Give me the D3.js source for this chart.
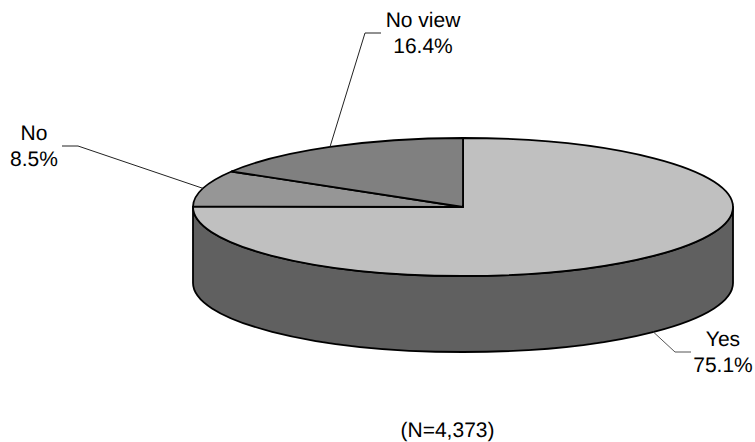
<!DOCTYPE html>
<html>
<head>
<meta charset="utf-8">
<style>
  html, body { margin: 0; padding: 0; background: #fff; }
  svg { display: block; }
  text { font-family: "Liberation Sans", Arial, sans-serif; font-size: 21px; fill: #000; text-rendering: geometricPrecision; }
</style>
<script src="https://cdnjs.cloudflare.com/ajax/libs/d3/7.8.5/d3.min.js"></script>
</head>
<body>
<svg id="chart" width="755" height="442"></svg>
<script>
const categories = ["Yes", "No", "No view"];
const shares = [75.1, 8.5, 16.4];
const sliceColors = ["#c0c0c0", "#969696", "#808080"];
const sampleNote = "(N=4,373)";

const width = 755, height = 442;
const cx = 463, cy = 207, rx = 270, ry = 69, depth = 76;
const wallColor = "#606060";

// Leader elbow and label placement for each slice
const leaders = [
  { elbow: [675, 352], end: [691, 352], label: [723, 346], rim: true, stroke: "#555" },
  { elbow: [78, 146], end: [62, 146], label: [34, 140], rim: false, stroke: "#222" },
  { elbow: [365, 33], end: [381, 33], label: [423, 27], rim: false, stroke: "#222" }
];

const svg = d3.select("#chart");
const rows = categories.map((name, i) => ({ name, value: shares[i], color: sliceColors[i], leader: leaders[i] }));
const pie = d3.pie().sort(null).value(d => d.value);
const arcs = pie(rows);

const rimPoint = a => [cx + rx * Math.sin(a), cy - ry * Math.cos(a)];

// Cylinder wall: the lower half of the top ellipse swept down by the depth
const wall = `M${cx - rx},${cy}V${cy + depth}A${rx},${ry} 0 0 0 ${cx + rx},${cy + depth}V${cy}A${rx},${ry} 0 0 1 ${cx - rx},${cy}Z`;
svg.append("path")
  .attr("d", wall)
  .attr("fill", wallColor)
  .attr("stroke", "#000")
  .attr("stroke-width", 1.8)
  .attr("stroke-linejoin", "round");

// Top face: circular arcs squashed into an ellipse, strokes kept even
const arcGen = d3.arc().innerRadius(0).outerRadius(rx);
svg.append("g")
  .attr("transform", `translate(${cx},${cy}) scale(1,${ry / rx})`)
  .selectAll("path")
  .data(arcs)
  .join("path")
  .attr("d", arcGen)
  .attr("fill", d => d.data.color)
  .attr("stroke", "#000")
  .attr("stroke-width", 1.8)
  .attr("stroke-linejoin", "round")
  .attr("vector-effect", "non-scaling-stroke");

// Leader lines start at the middle of each slice's rim
const line = d3.line();
svg.append("g")
  .selectAll("path")
  .data(arcs)
  .join("path")
  .attr("d", d => {
    const p = rimPoint((d.startAngle + d.endAngle) / 2);
    if (d.data.leader.rim) p[1] += depth;
    return line([p, d.data.leader.elbow, d.data.leader.end]);
  })
  .attr("fill", "none")
  .attr("stroke", d => d.data.leader.stroke)
  .attr("stroke-width", 1);

// Two-line labels: name above, share below
const labels = svg.append("g")
  .selectAll("text")
  .data(arcs)
  .join("text")
  .attr("text-anchor", "middle")
  .attr("x", d => d.data.leader.label[0])
  .attr("y", d => d.data.leader.label[1]);
labels.append("tspan").text(d => d.data.name);
labels.append("tspan")
  .attr("x", d => d.data.leader.label[0])
  .attr("dy", 26)
  .text(d => d.data.value.toFixed(1) + "%");

svg.append("text")
  .attr("x", 447.5)
  .attr("y", 437)
  .attr("text-anchor", "middle")
  .text(sampleNote);
</script>
</body>
</html>
